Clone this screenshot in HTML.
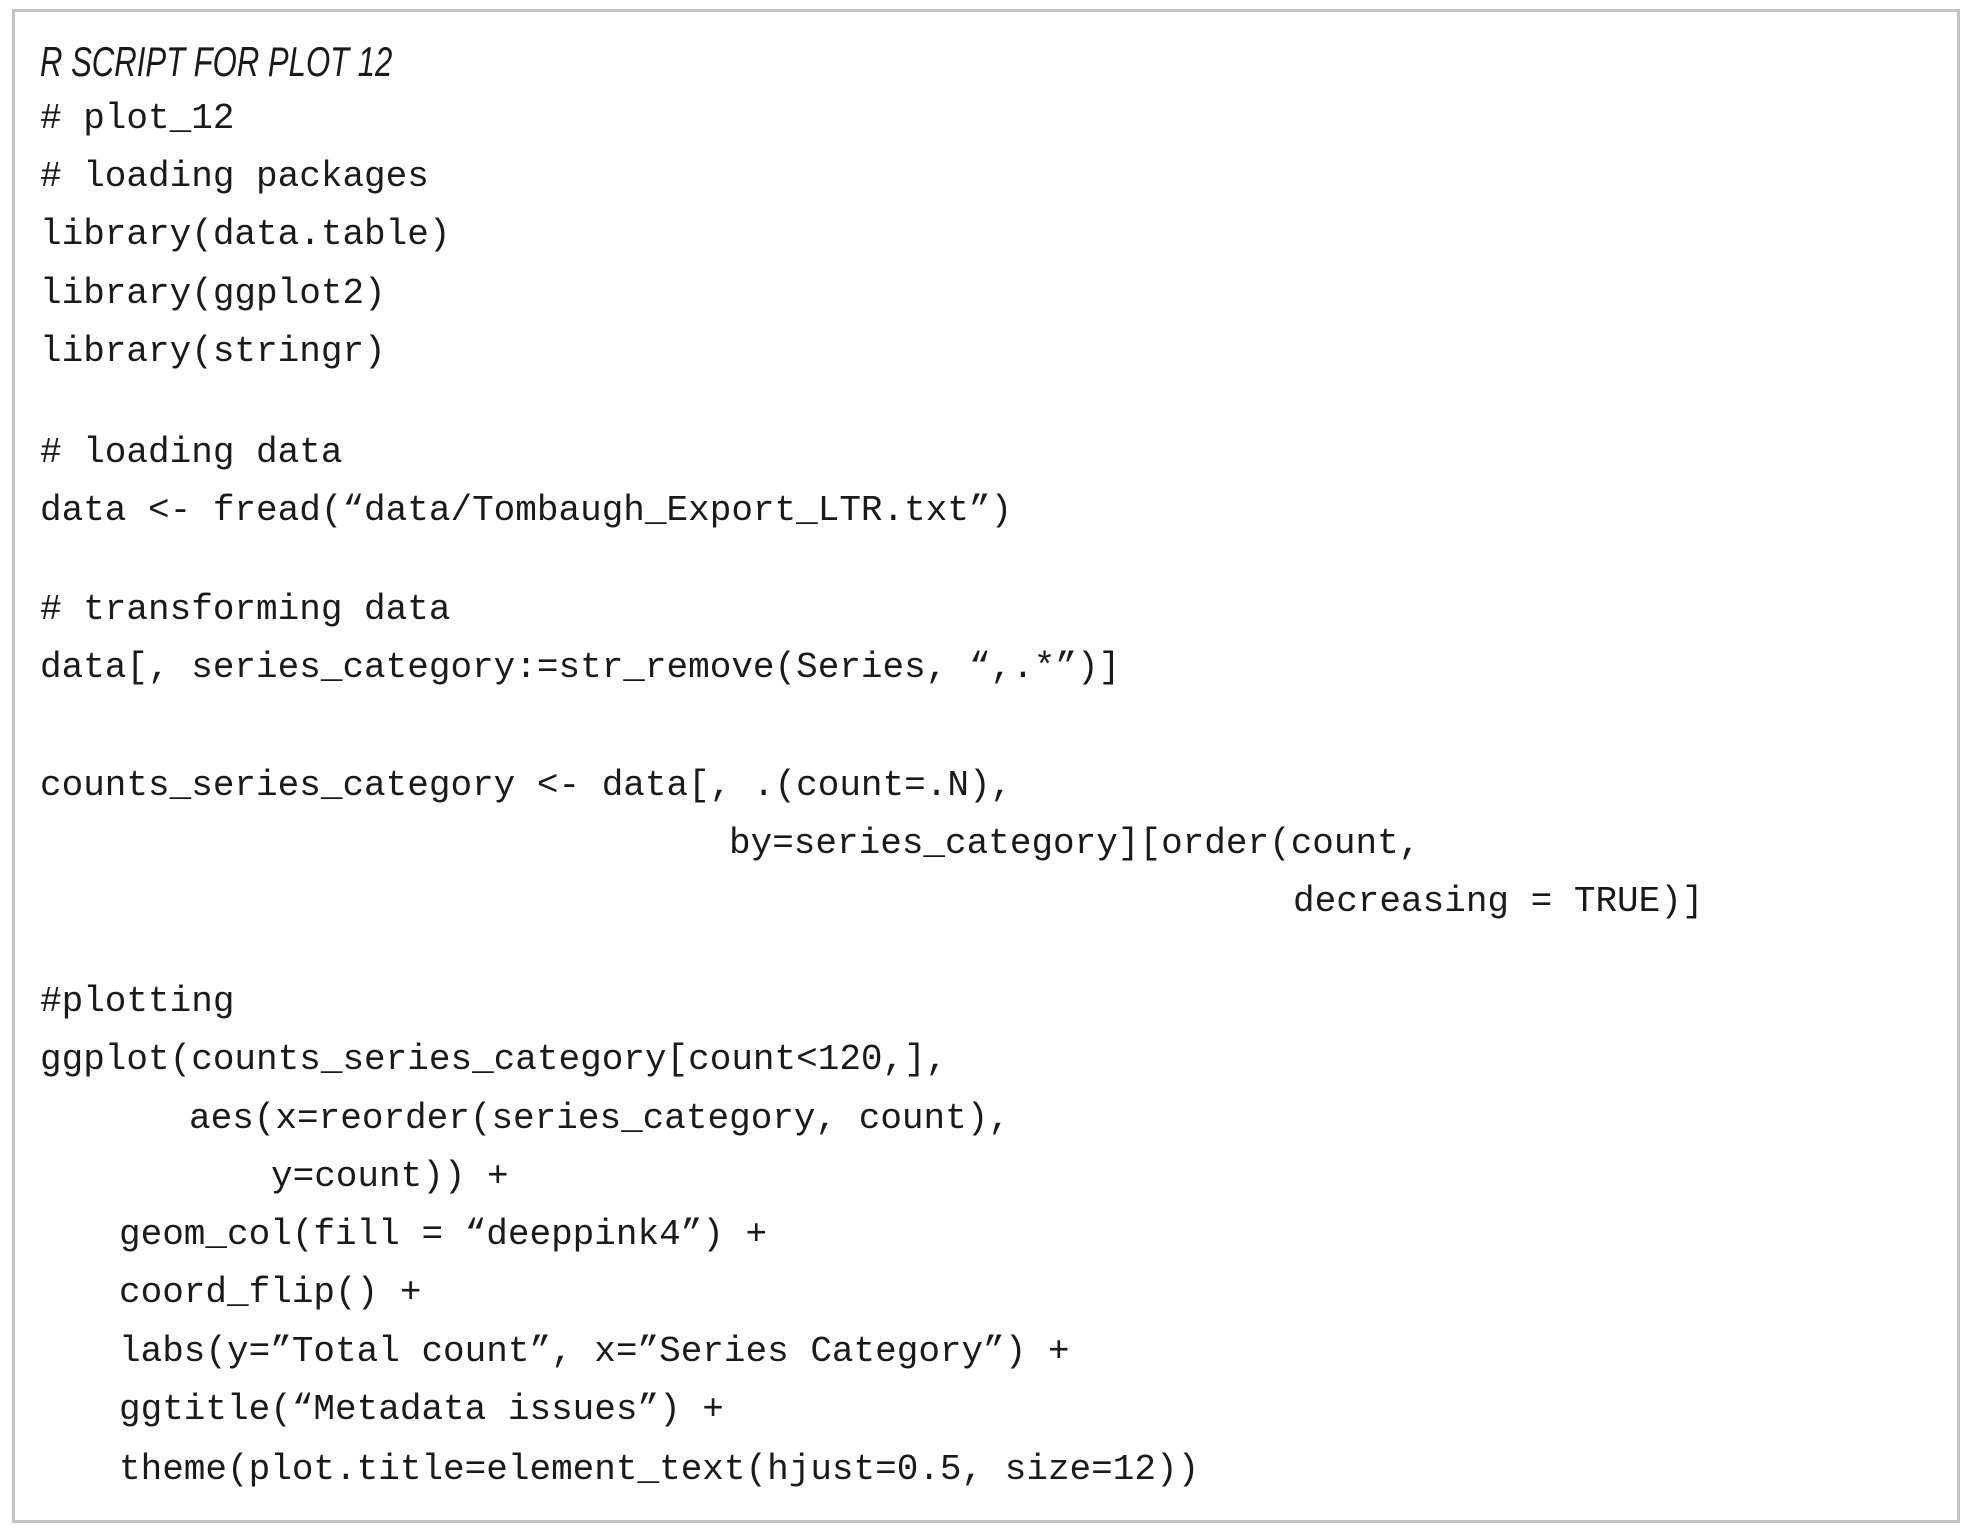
<!DOCTYPE html>
<html><head><meta charset="utf-8"><style>
html,body{margin:0;padding:0;background:#fff;}
body{width:1978px;height:1539px;position:relative;overflow:hidden;}
.box{position:absolute;left:12px;top:9px;width:1948px;height:1514px;border:3px solid #c4c4c4;box-sizing:border-box;}
.l{position:absolute;white-space:pre;font-family:"Liberation Mono",monospace;font-size:36px;line-height:36px;color:#1a1a1a;}
.t{position:absolute;left:40px;top:41px;white-space:pre;font-family:"Liberation Sans",sans-serif;font-style:italic;font-size:42px;line-height:42px;color:#1a1a1a;transform:scaleX(0.74);transform-origin:0 0;}
</style></head><body>
<div class="box"></div>
<div class="t">R SCRIPT FOR PLOT 12</div>
<div class="l" style="left:40px;top:101px"># plot_12</div>
<div class="l" style="left:40px;top:159px"># loading packages</div>
<div class="l" style="left:40px;top:217px">library(data.table)</div>
<div class="l" style="left:40px;top:276px">library(ggplot2)</div>
<div class="l" style="left:40px;top:334px">library(stringr)</div>
<div class="l" style="left:40px;top:435px"># loading data</div>
<div class="l" style="left:40px;top:493px">data &lt;- fread(“data/Tombaugh_Export_LTR.txt”)</div>
<div class="l" style="left:40px;top:592px"># transforming data</div>
<div class="l" style="left:40px;top:650px">data[, series_category:=str_remove(Series, “,.*”)]</div>
<div class="l" style="left:40px;top:768px">counts_series_category &lt;- data[, .(count=.N),</div>
<div class="l" style="left:729px;top:826px">by=series_category][order(count,</div>
<div class="l" style="left:1293px;top:884px">decreasing = TRUE)]</div>
<div class="l" style="left:40px;top:984px">#plotting</div>
<div class="l" style="left:40px;top:1042px">ggplot(counts_series_category[count&lt;120,],</div>
<div class="l" style="left:189px;top:1101px">aes(x=reorder(series_category, count),</div>
<div class="l" style="left:271px;top:1159px">y=count)) +</div>
<div class="l" style="left:119px;top:1217px">geom_col(fill = “deeppink4”) +</div>
<div class="l" style="left:119px;top:1275px">coord_flip() +</div>
<div class="l" style="left:119px;top:1334px">labs(y=”Total count”, x=”Series Category”) +</div>
<div class="l" style="left:119px;top:1392px">ggtitle(“Metadata issues”) +</div>
<div class="l" style="left:119px;top:1452px">theme(plot.title=element_text(hjust=0.5, size=12))</div>
</body></html>
